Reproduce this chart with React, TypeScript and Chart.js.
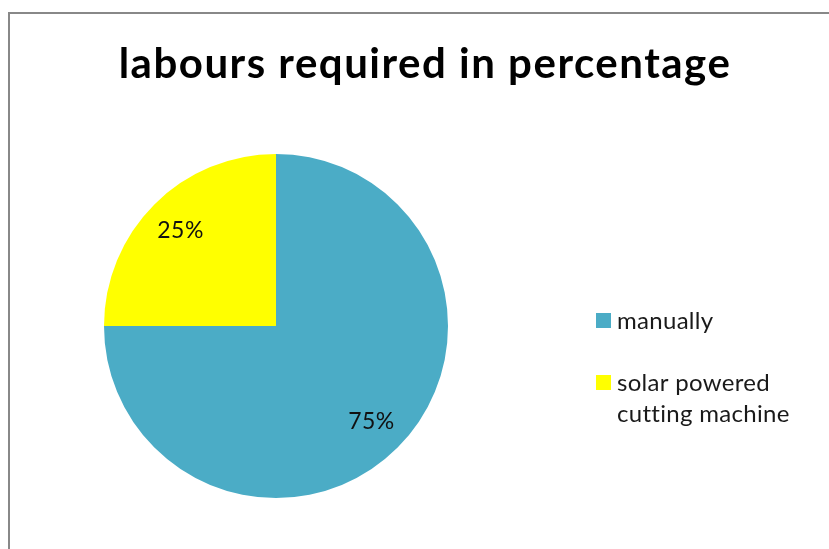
import React, { useEffect, useRef } from "react";
import { Chart, registerables } from "chart.js";

Chart.register(...registerables);

const TITLE = "labours required in percentage";
const categories = ["manually", "solar powered cutting machine"];
const legendLines = [["manually"], ["solar powered", "cutting machine"]];
const values = [75, 25];
const colors = ["#4BACC6", "#FFFF00"];
const FONT = "Lato, 'Open Sans', sans-serif";

const overlay = {
  id: "overlay",
  beforeDraw(chart: any) {
    const ctx = chart.ctx;
    ctx.save();
    ctx.fillStyle = "#ffffff";
    ctx.fillRect(0, 0, chart.width, chart.height);
    ctx.strokeStyle = "#888888";
    ctx.lineWidth = 2;
    ctx.beginPath();
    ctx.moveTo(9, 560);
    ctx.lineTo(9, 13);
    ctx.lineTo(840, 13);
    ctx.stroke();
    ctx.restore();
  },
  afterDraw(chart: any) {
    const ctx = chart.ctx;
    ctx.save();
    // title
    ctx.fillStyle = "#000000";
    ctx.font = `bold 42px ${FONT}`;
    (ctx as any).letterSpacing = "1.5px";
    ctx.textAlign = "center";
    ctx.textBaseline = "alphabetic";
    ctx.fillText(TITLE, 425, 78);
    // percent labels
    const meta = chart.getDatasetMeta(0);
    const total = values.reduce((a, b) => a + b, 0);
    ctx.font = `23px ${FONT}`;
    (ctx as any).letterSpacing = "0.5px";
    ctx.fillStyle = "#111111";
    ctx.textBaseline = "middle";
    meta.data.forEach((arc: any, i: number) => {
      const p = arc.getProps(["x", "y", "startAngle", "endAngle", "outerRadius"], true);
      const mid = (p.startAngle + p.endAngle) / 2;
      const r = p.outerRadius * 0.785;
      const x = p.x + Math.cos(mid) * r;
      const y = p.y + Math.sin(mid) * r;
      ctx.fillText(Math.round((values[i] / total) * 100) + "%", x, y);
    });
    // legend
    ctx.textAlign = "left";
    ctx.font = `24px ${FONT}`;
    (ctx as any).letterSpacing = "0.3px";
    const rows = [321, 383];
    legendLines.forEach((lines, i) => {
      ctx.fillStyle = colors[i];
      ctx.fillRect(596, rows[i] - 8, 15, 15);
      ctx.fillStyle = "#1a1a1a";
      lines.forEach((ln, j) => {
        ctx.fillText(ln, 617, rows[i] + j * 31);
      });
    });
    ctx.restore();
  },
};

export default function App() {
  const ref = useRef<HTMLCanvasElement>(null);
  useEffect(() => {
    if (!ref.current) return;
    const chart = new Chart(ref.current, {
      type: "pie",
      data: {
        labels: categories,
        datasets: [
          {
            data: values,
            backgroundColor: colors,
            borderWidth: 0,
          },
        ],
      },
      options: {
        responsive: false,
        animation: false,
        layout: { padding: { left: 104, right: 381, top: 154, bottom: 51 } },
        plugins: {
          legend: { display: false },
          title: { display: false },
          tooltip: { enabled: false },
        },
      },
      plugins: [overlay],
    });
    return () => chart.destroy();
  }, []);
  return (
    <div style={{ position: "fixed", left: 0, top: 0, width: 829, height: 549 }}>
      <canvas ref={ref} width={829} height={549} style={{ display: "block" }} />
    </div>
  );
}
